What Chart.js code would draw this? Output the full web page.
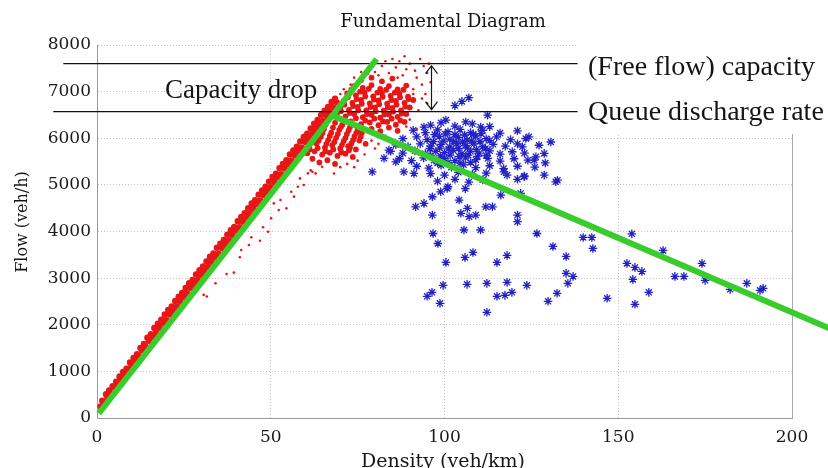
<!doctype html>
<html>
<head>
<meta charset="utf-8">
<title>Fundamental Diagram</title>
<script src="https://cdn.jsdelivr.net/npm/chart.js"></script>
<style>
  body { margin: 0; background: #fff; }
</style>
</head>
<body>
<canvas id="fd" width="828" height="468"></canvas>
<script>
// tick labels
var densityTicks = [0, 50, 100, 150, 200];
var flowTicks = [0, 1000, 2000, 3000, 4000, 5000, 6000, 7000, 8000];

// reference levels (veh/h) and where the double arrow sits (veh/km)
var freeFlowCapacity = 7600;
var queueDischargeRate = 6570;
var dropArrowDensity = 96;

// triangular fit, [density, flow]
var freeFlowBranch = [[0.5, 100], [80.5, 7700]];
var congestedBranch = [[68, 6480], [215, 1790]];
var capacityLine = [[-9.7, freeFlowCapacity], [138.3, freeFlowCapacity]];
var dischargeLine = [[-12.6, queueDischargeRate], [138.3, queueDischargeRate]];

// free flow measurements (red), dense band along the free flow branch
var redBand = [
  [1, 250], [1.5, 370], [2, 340], [2.6, 510], [3, 440], [3.5, 590], [4, 530], [4.5, 680], [5, 660], [5.5, 780],
  [6, 750], [6.5, 890], [7, 820], [7.5, 990], [8, 930], [8.5, 1060], [9, 1050], [9.5, 1190], [10, 1120], [10.5, 1290],
  [11, 1240], [11.5, 1370], [12, 1330], [12.5, 1500], [13, 1450], [13.5, 1590], [14, 1530], [14.5, 1720], [15, 1650], [15.5, 1800],
  [16, 1740], [16.5, 1930], [17, 1820], [17.5, 2020], [18, 1930], [18.5, 2110], [19, 2030], [19.5, 2220], [20, 2100], [20.5, 2320],
  [21, 2220], [21.5, 2390], [22, 2310], [22.5, 2510], [23, 2390], [23.5, 2600], [24, 2500], [24.5, 2680], [25, 2600], [25.5, 2790],
  [26, 2670], [26.5, 2890], [27, 2790], [27.5, 2960], [28, 2880], [28.5, 3080], [29, 2960], [29.5, 3170], [30, 3070], [30.5, 3250],
  [31, 3160], [31.5, 3360], [32, 3240], [32.5, 3460], [33, 3350], [33.5, 3530], [34, 3450], [34.5, 3650], [35, 3520], [35.5, 3740],
  [36, 3640], [36.5, 3820], [37, 3730], [37.5, 3930], [38, 3810], [38.5, 4030], [39, 3920], [39.5, 4100], [40, 4020], [40.5, 4220],
  [41, 4090], [41.5, 4310], [42, 4210], [42.5, 4390], [43, 4300], [43.5, 4500], [44, 4380], [44.5, 4600], [45, 4490], [45.5, 4670],
  [46, 4590], [46.5, 4790], [47, 4660], [47.5, 4880], [48, 4780], [48.5, 4960], [49, 4870], [49.5, 5070], [50, 4950], [50.5, 5170],
  [51, 5060], [51.5, 5240], [52, 5160], [52.5, 5360], [53, 5230], [53.5, 5450], [54, 5350], [54.5, 5530], [55, 5440], [55.5, 5650],
  [56, 5520], [56.5, 5740], [57, 5630], [57.5, 5820], [58, 5730], [58.5, 5930], [59, 5800], [59.5, 6030], [60, 5920], [60.5, 6100],
  [61, 6010], [61.5, 6210], [62, 6090], [62.5, 6310], [63, 6200], [63.5, 6390], [64, 6300], [64.5, 6500], [65, 6370], [65.5, 6590],
  [66, 6490], [66.5, 6670], [67, 6580], [67.5, 6780], [68, 6660], [68.5, 6850], [69, 6770]
];

// free flow measurements (red), core of the cloud around capacity
var redCore = [
  [64, 6300], [66.2, 6380], [68.5, 6330], [70.6, 6290], [72.8, 6240], [75, 6180],
  [63, 6150], [65.3, 6200], [67.4, 6120], [69.7, 6180], [71.9, 6090], [74.1, 6040], [76.2, 6110],
  [62, 5980], [64.4, 6030], [66.5, 5960], [68.8, 6010], [71, 5940], [73.2, 5890], [75.5, 5950], [77.3, 5880],
  [61, 5830], [63.2, 5880], [65.6, 5800], [67.7, 5850], [70, 5780], [72.3, 5830], [74.5, 5760],
  [60.5, 5680], [62.6, 5720], [64.8, 5650], [67, 5690], [69.2, 5620], [71.5, 5670], [73.6, 5600],
  [62, 5560], [64, 5480], [66.3, 5530], [68.5, 5450],
  [76, 7250], [79, 7300], [82, 7220], [85, 7280],
  [74, 7120], [76.5, 7080], [79, 7140], [81.5, 7060], [84, 7120], [86.5, 7050], [89, 7130],
  [72, 6960], [74.5, 6920], [77, 6980], [79.5, 6900], [82, 6970], [84.5, 6910], [87, 6960], [89.5, 6890],
  [71, 6800], [73.5, 6760], [76, 6820], [78.5, 6750], [81, 6810], [83.5, 6740], [86, 6800], [88.5, 6760], [91, 6820],
  [70, 6650], [72.5, 6610], [75, 6670], [77.5, 6600], [80, 6660], [82.5, 6590], [85, 6650], [87.5, 6600], [90, 6660],
  [69, 6510], [71.5, 6470], [74, 6520], [76.5, 6450], [79, 6500], [81.5, 6440], [84, 6510], [86.5, 6460], [89, 6520],
  [73, 6360], [76, 6300], [78.5, 6340], [81, 6280], [83.5, 6350], [86, 6290], [88.5, 6350],
  [79, 6200], [81.5, 6150], [84, 6230], [86.5, 6160],
  [73.2, 7040], [75.7, 7000], [78.2, 7060], [80.7, 6980], [83.2, 7040], [85.7, 6980], [88.2, 7040],
  [72.2, 6880], [74.7, 6840], [77.2, 6900], [79.7, 6830], [82.2, 6890], [84.7, 6820], [87.2, 6880], [89.7, 6840],
  [71.2, 6720], [73.7, 6690], [76.2, 6740], [78.7, 6670], [81.2, 6730], [83.7, 6660], [86.2, 6720], [88.7, 6680],
  [70.2, 6580], [72.7, 6540], [75.2, 6600], [77.7, 6520], [80.2, 6580], [82.7, 6510], [85.2, 6570], [87.7, 6530],
  [74.5, 6430], [77.2, 6380], [79.8, 6420], [82.3, 6360], [84.8, 6420], [87.3, 6380],
  [63.5, 6240], [65.8, 6290], [67.9, 6230], [70.2, 6240], [72.4, 6170], [74.6, 6110],
  [62.6, 6060], [64.9, 6110], [67, 6050], [69.3, 6090], [71.5, 6010], [73.7, 5960], [75.9, 6030],
  [61.6, 5900], [63.8, 5950], [66, 5880], [68.3, 5920], [70.5, 5860], [72.8, 5800],
  [61.2, 5760], [63.5, 5790], [65.7, 5720], [68, 5760], [70.3, 5700], [72.5, 5740]
];

// free flow measurements (red), loose points
var redSparse = [
  [30.7, 2640], [31.6, 2605], [34.1, 2890], [37.3, 3090], [39.4, 3118], [41.1, 3447], [41.5, 3604], [43.7, 3711],
  [44.4, 3876], [46.9, 3803], [47.8, 4090], [49.2, 3996], [50.1, 4283], [52.3, 4460], [50.9, 4604], [52.8, 4676],
  [54.5, 4497], [56.7, 4747], [55.9, 4852], [57.8, 4959], [58.4, 5139], [59.5, 4996], [60.7, 5246], [62, 5280],
  [62.9, 5246], [64.8, 5387], [61.5, 5310], [68.2, 5245], [65.8, 5710], [70, 5380], [72, 5450], [74, 5380],
  [75, 5520], [77, 5650], [79, 5950], [80, 5780], [81, 5880], [83, 6050], [85, 5900],
  [84, 7400], [86, 7520], [88, 7350], [90, 7600], [91.5, 7450], [93, 7700], [94, 7550], [92, 7300], [89, 7480],
  [87, 7650], [95, 7400], [93.5, 7150], [91, 7050], [80, 7420], [82, 7550], [78, 7380], [85, 7700], [88.5, 7760],
  [94.5, 6950], [95, 6750], [92.5, 6600], [93.5, 6850], [90, 6400], [92, 6200], [76, 7420], [74, 7300], [73, 7150],
  [71, 7050], [70, 6950], [96, 7200], [95.5, 7600], [83, 7650], [81, 7350], [86.5, 7300], [91, 6950], [89, 6250]
];

// congested measurements (blue), main cluster
var blueCore = [
  [96, 6280], [99, 6330], [103, 6260], [108, 6310], [113, 6250],
  [91, 6170], [94.5, 6120], [98, 6180], [101, 6140], [104.5, 6190], [107.5, 6120], [111, 6170], [116, 6110], [121, 6160],
  [88, 5990], [92, 6030], [95, 5970], [98.5, 6040], [101.5, 5980], [104, 6020], [106.5, 5960], [109, 6050], [112, 5990], [115, 6030], [119, 5970],
  [86, 5860], [89.5, 5820], [93, 5880], [96, 5830], [99, 5870], [101.5, 5810], [103.5, 5890], [106, 5840], [108.5, 5880], [111, 5820], [114, 5870], [117.5, 5830], [121, 5880],
  [84.5, 5720], [88, 5680], [91.5, 5730], [94.5, 5670], [97.5, 5720], [100, 5690], [102.5, 5740], [105, 5670], [107.5, 5720], [110, 5680], [113, 5730], [116, 5660], [119.5, 5710], [123, 5680],
  [87, 5560], [90.5, 5520], [94, 5580], [97, 5530], [100, 5570], [103, 5520], [106, 5580], [109, 5540], [112.5, 5570], [116, 5510], [120, 5560], [124, 5530], [129, 5470],
  [92, 5400], [95.5, 5360], [99, 5420], [102, 5380], [105.5, 5430], [109, 5370], [113, 5410], [117, 5350], [121, 5400], [126, 5380],
  [96, 5240], [100, 5210], [104, 5270], [108, 5230], [112, 5250], [118, 5210], [123, 5190],
  [98, 5080], [103, 5120], [107, 5060], [111, 5110], [101, 4960], [106, 4920],
  [97.2, 6080], [100.2, 6090], [103, 6080], [105.8, 6070], [108.3, 6090], [110.5, 6100],
  [96.8, 5930], [99.8, 5940], [102.6, 5930], [105.2, 5920], [107.8, 5940], [110.2, 5930], [113, 5950],
  [95.8, 5780], [98.6, 5790], [101.2, 5770], [104, 5780], [106.6, 5790], [109.2, 5760], [111.8, 5780],
  [96, 5630], [98.8, 5620], [101.6, 5640], [104.2, 5610], [106.8, 5640], [109.5, 5610], [112, 5630],
  [98, 5470], [101, 5480], [104.5, 5470], [107.5, 5480]
];

// congested measurements (blue), spread towards jam density
var blueSpread = [
  [103, 6700], [105, 6790], [107, 6870], [112.4, 6495], [100.4, 6390], [106.1, 6350], [94.1, 6240], [110.4, 6240],
  [130.6, 5920], [123.4, 5995], [127.2, 5850], [128.7, 5675], [125.8, 5530], [132.5, 5100], [128.7, 5210], [122.9, 5175],
  [121, 5120], [117.1, 5280], [84, 5745], [82.6, 5570], [86, 5495], [88.3, 5280], [91.2, 5245], [79.2, 5280],
  [122.4, 5816], [124.3, 6030], [126.3, 5602], [132, 5066], [116.2, 4780], [121.9, 4817],
  [91.7, 4530], [94.1, 4603], [96.5, 4745], [96.5, 4352], [98.9, 4852], [100.8, 4924], [104.2, 4675], [106.6, 4496],
  [109, 4352], [111.9, 4530], [113.8, 4530], [121, 4352], [121, 4210], [104.7, 4390], [107.1, 4317], [105.6, 4032],
  [110.4, 4032], [96.7, 3957], [98.1, 3743], [100.4, 3337], [105.9, 3444], [108.2, 3551], [115.1, 3337], [118, 3487],
  [126.6, 3957], [131.2, 3679], [135, 3465], [139.9, 3872], [142.4, 3872], [142.7, 3636], [135, 3102], [137, 3037],
  [135.5, 2888], [132.4, 2674], [129.8, 2503], [123.7, 2845], [118, 2909], [119.4, 2695], [117.4, 2631], [115.1, 2610],
  [112.2, 2888], [112.2, 2267], [106.5, 2866], [99.6, 2845], [98.7, 2460], [96.4, 2695], [95, 2610], [146.8, 2567],
  [152.5, 3316], [154.8, 3230], [156.8, 3144], [154.2, 2973], [154.8, 2439], [158.8, 2695], [162.9, 3594], [166.3, 3037],
  [168.9, 3037], [174.1, 3316], [175, 2952], [182.2, 2759], [187, 2888], [190.8, 2738], [191.7, 2781], [153.9, 3950]
];

function pts(list) {
  return list.map(function (p) { return { x: p[0], y: p[1] }; });
}

var RED = 'rgb(232, 22, 22)';
var BLUE = 'rgb(34, 34, 196)';
var GREEN = 'rgb(58, 204, 44)';
var serif = '"DejaVu Serif", serif';

var overlay = {
  id: 'overlay',
  beforeDatasetsDraw: function (chart) {
    var ctx = chart.ctx, area = chart.chartArea;
    ctx.save();
    // white patch behind the right-hand labels
    ctx.fillStyle = '#fff';
    ctx.fillRect(577, 0, 828 - 577, 134);
    ctx.strokeStyle = '#a8a8a8';
    ctx.lineWidth = 1;
    ctx.beginPath();
    ctx.moveTo(Math.round(area.right) + 0.5, 134);
    ctx.lineTo(Math.round(area.right) + 0.5, area.bottom);
    ctx.stroke();
    ctx.restore();
  },
  afterDraw: function (chart) {
    var ctx = chart.ctx, xs = chart.scales.x, ys = chart.scales.y;
    ctx.save();
    ctx.fillStyle = '#151515';
    ctx.textBaseline = 'alphabetic';
    ctx.textAlign = 'center';
    ctx.font = '18px ' + serif;
    ctx.fillText('Fundamental Diagram', 443, 27);
    ctx.font = '19px ' + serif;
    ctx.fillText('Density (veh/km)', 443, 467);
    ctx.font = '16px ' + serif;
    ctx.save();
    ctx.translate(27, 222);
    ctx.rotate(-Math.PI / 2);
    ctx.fillText('Flow (veh/h)', 0, 0);
    ctx.restore();

    ctx.textAlign = 'left';
    ctx.font = '27px "Liberation Serif", serif';
    ctx.fillText('Capacity drop', 165, 98);
    ctx.font = '28px "Liberation Serif", serif';
    ctx.fillText('(Free flow) capacity', 588, 75);
    ctx.fillText('Queue discharge rate', 588, 120);

    // capacity drop arrow
    var ax = Math.round(xs.getPixelForValue(dropArrowDensity)) + 0.5;
    var top = ys.getPixelForValue(freeFlowCapacity);
    var bot = ys.getPixelForValue(queueDischargeRate);
    ctx.strokeStyle = '#151515';
    ctx.lineWidth = 1.2;
    ctx.beginPath();
    ctx.moveTo(ax, top + 2); ctx.lineTo(ax, bot - 2);
    ctx.moveTo(ax - 6, top + 10); ctx.lineTo(ax, top + 2); ctx.lineTo(ax + 6, top + 10);
    ctx.moveTo(ax - 6, bot - 10); ctx.lineTo(ax, bot - 2); ctx.lineTo(ax + 6, bot - 10);
    ctx.stroke();
    ctx.restore();
  }
};

new Chart(document.getElementById('fd').getContext('2d'), {
  type: 'scatter',
  data: {
    datasets: [
      { data: pts(freeFlowBranch), showLine: true, borderColor: GREEN, borderWidth: 6, pointRadius: 0, clip: false, order: 0 },
      { data: pts(congestedBranch), showLine: true, borderColor: GREEN, borderWidth: 6, pointRadius: 0, clip: false, order: 0 },
      { data: pts(capacityLine), showLine: true, borderColor: '#111', borderWidth: 1.3, pointRadius: 0, clip: false, order: 1 },
      { data: pts(dischargeLine), showLine: true, borderColor: '#111', borderWidth: 1.3, pointRadius: 0, clip: false, order: 1 },
      { data: pts(blueCore), pointStyle: 'star', pointRadius: 4.3, borderColor: BLUE, borderWidth: 1.3, order: 2 },
      { data: pts(blueSpread), pointStyle: 'star', pointRadius: 4.3, borderColor: BLUE, borderWidth: 1.3, order: 2 },
      { data: pts(redBand), pointRadius: 3.2, backgroundColor: RED, borderWidth: 0, order: 3 },
      { data: pts(redCore), pointRadius: 2.9, backgroundColor: RED, borderWidth: 0, order: 3 },
      { data: pts(redSparse), pointRadius: 1.3, backgroundColor: RED, borderWidth: 0, order: 3 }
    ]
  },
  options: {
    responsive: false,
    animation: false,
    devicePixelRatio: 1,
    layout: { padding: { left: 0, right: 36, top: 45, bottom: 0 } },
    plugins: { legend: { display: false }, tooltip: { enabled: false } },
    scales: {
      x: {
        type: 'linear',
        min: densityTicks[0],
        max: densityTicks[densityTicks.length - 1],
        afterBuildTicks: function (s) { s.ticks = densityTicks.map(function (v) { return { value: v }; }); },
        afterFit: function (s) { s.height = 50; },
        grid: { color: '#c4c4c4', drawTicks: false },
        border: { color: '#9a9a9a', width: 1, dash: [1, 2] },
        ticks: { padding: 9, maxRotation: 0, color: '#1a1a1a', font: { family: serif, size: 17 },
                 callback: function (v) { return String(v); } }
      },
      y: {
        type: 'linear',
        min: flowTicks[0],
        max: flowTicks[flowTicks.length - 1],
        afterBuildTicks: function (s) { s.ticks = flowTicks.map(function (v) { return { value: v }; }); },
        afterFit: function (s) { s.width = 97; },
        grid: { color: '#c4c4c4', drawTicks: false },
        border: { color: '#9a9a9a', width: 1, dash: [1, 2] },
        ticks: { padding: 6, color: '#1a1a1a', font: { family: serif, size: 17 },
                 callback: function (v) { return String(v); } }
      }
    }
  },
  plugins: [overlay]
});
</script>
</body>
</html>
